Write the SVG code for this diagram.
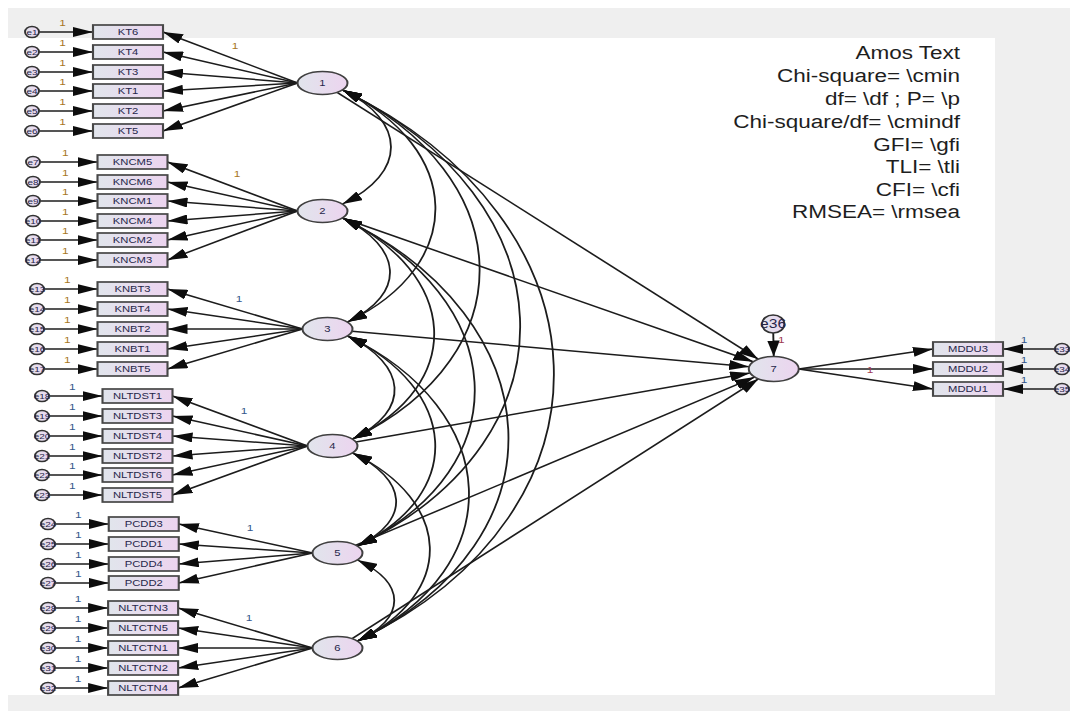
<svg xmlns="http://www.w3.org/2000/svg" width="1070" height="711" viewBox="0 0 1070 711">
<defs>
<linearGradient id="fillGrad" x1="0" y1="0" x2="1" y2="0">
<stop offset="0" stop-color="#e1e5ec"/>
<stop offset="1" stop-color="#ecd4ef"/>
</linearGradient>
<marker id="arrow" viewBox="0 0 16 10" refX="16" refY="5" markerWidth="16" markerHeight="10" markerUnits="userSpaceOnUse" orient="auto-start-reverse">
<path d="M0,0 L16,5 L0,10 Z" fill="#0d0d0d"/>
</marker>
<style>
.obs { fill: url(#fillGrad); stroke: #474747; stroke-width: 1.7; }
.lat { fill: url(#fillGrad); stroke: #404040; stroke-width: 1.6; }
.err { fill: url(#fillGrad); stroke: #333; stroke-width: 1.5; }
.path { fill: none; stroke: #1c1c1c; stroke-width: 1.5; marker-end: url(#arrow); }
.cov { fill: none; stroke: #1c1c1c; stroke-width: 1.45; marker-start: url(#arrow); marker-end: url(#arrow); }
text { font-family: "Liberation Sans", Arial, sans-serif; }
.lbl { font-size: 9px; text-anchor: middle; fill: #26264a; }
.elbl { font-size: 8px; text-anchor: middle; fill: #26264a; }
.one { font-size: 9.5px; text-anchor: middle; fill: #a8771f; }
.oneb { font-size: 9.5px; text-anchor: middle; fill: #35598c; }
.oner { font-size: 9.5px; text-anchor: middle; fill: #a03a55; }
.stats { font-size: 18px; text-anchor: end; fill: #1e1e1e; }
</style>
</defs>

<!-- canvas frame -->
<rect x="8" y="8" width="1062" height="703" fill="#efefef"/>
<rect x="0" y="38" width="995" height="657" fill="#ffffff"/>

<!-- drawing space is compressed horizontally; stretch it back out -->
<g transform="scale(1.25,1)">

<g id="connectors">
<!-- error terms to indicators -->
<line class="path" x1="31.4" y1="32" x2="74.4" y2="32"/>
<line class="path" x1="31.4" y1="52" x2="74.4" y2="52"/>
<line class="path" x1="31.4" y1="72" x2="74.4" y2="72"/>
<line class="path" x1="31.4" y1="91" x2="74.4" y2="91"/>
<line class="path" x1="31.4" y1="111" x2="74.4" y2="111"/>
<line class="path" x1="31.4" y1="131" x2="74.4" y2="131"/>
<line class="path" x1="32.2" y1="162" x2="78" y2="162"/>
<line class="path" x1="32.2" y1="182" x2="78" y2="182"/>
<line class="path" x1="32.2" y1="201" x2="78" y2="201"/>
<line class="path" x1="32.2" y1="221" x2="78" y2="221"/>
<line class="path" x1="32.2" y1="240" x2="78" y2="240"/>
<line class="path" x1="32.2" y1="260" x2="78" y2="260"/>
<line class="path" x1="35.4" y1="289" x2="78" y2="289"/>
<line class="path" x1="35.4" y1="309" x2="78" y2="309"/>
<line class="path" x1="35.4" y1="329" x2="78" y2="329"/>
<line class="path" x1="35.4" y1="349" x2="78" y2="349"/>
<line class="path" x1="35.4" y1="369" x2="78" y2="369"/>
<line class="path" x1="39.4" y1="396" x2="82" y2="396"/>
<line class="path" x1="39.4" y1="416" x2="82" y2="416"/>
<line class="path" x1="39.4" y1="436" x2="82" y2="436"/>
<line class="path" x1="39.4" y1="456" x2="82" y2="456"/>
<line class="path" x1="39.4" y1="475" x2="82" y2="475"/>
<line class="path" x1="39.4" y1="495" x2="82" y2="495"/>
<line class="path" x1="44.2" y1="524" x2="87" y2="524"/>
<line class="path" x1="44.2" y1="544" x2="87" y2="544"/>
<line class="path" x1="44.2" y1="564" x2="87" y2="564"/>
<line class="path" x1="44.2" y1="583" x2="87" y2="583"/>
<line class="path" x1="44.2" y1="608" x2="86.5" y2="608"/>
<line class="path" x1="44.2" y1="628" x2="86.5" y2="628"/>
<line class="path" x1="44.2" y1="648" x2="86.5" y2="648"/>
<line class="path" x1="44.2" y1="668" x2="86.5" y2="668"/>
<line class="path" x1="44.2" y1="688" x2="86.5" y2="688"/>

<!-- factor loadings -->
<line class="path" x1="238" y1="83" x2="130.4" y2="32"/>
<line class="path" x1="238" y1="83" x2="130.4" y2="52"/>
<line class="path" x1="238" y1="83" x2="130.4" y2="72"/>
<line class="path" x1="238" y1="83" x2="130.4" y2="91"/>
<line class="path" x1="238" y1="83" x2="130.4" y2="111"/>
<line class="path" x1="238" y1="83" x2="130.4" y2="131"/>
<line class="path" x1="238" y1="211" x2="134" y2="162"/>
<line class="path" x1="238" y1="211" x2="134" y2="182"/>
<line class="path" x1="238" y1="211" x2="134" y2="201"/>
<line class="path" x1="238" y1="211" x2="134" y2="221"/>
<line class="path" x1="238" y1="211" x2="134" y2="240"/>
<line class="path" x1="238" y1="211" x2="134" y2="260"/>
<line class="path" x1="242" y1="329" x2="134" y2="289"/>
<line class="path" x1="242" y1="329" x2="134" y2="309"/>
<line class="path" x1="242" y1="329" x2="134" y2="329"/>
<line class="path" x1="242" y1="329" x2="134" y2="349"/>
<line class="path" x1="242" y1="329" x2="134" y2="369"/>
<line class="path" x1="246" y1="446" x2="138" y2="396"/>
<line class="path" x1="246" y1="446" x2="138" y2="416"/>
<line class="path" x1="246" y1="446" x2="138" y2="436"/>
<line class="path" x1="246" y1="446" x2="138" y2="456"/>
<line class="path" x1="246" y1="446" x2="138" y2="475"/>
<line class="path" x1="246" y1="446" x2="138" y2="495"/>
<line class="path" x1="250" y1="553" x2="143" y2="524"/>
<line class="path" x1="250" y1="553" x2="143" y2="544"/>
<line class="path" x1="250" y1="553" x2="143" y2="564"/>
<line class="path" x1="250" y1="553" x2="143" y2="583"/>
<line class="path" x1="250" y1="648" x2="142.5" y2="608"/>
<line class="path" x1="250" y1="648" x2="142.5" y2="628"/>
<line class="path" x1="250" y1="648" x2="142.5" y2="648"/>
<line class="path" x1="250" y1="648" x2="142.5" y2="668"/>
<line class="path" x1="250" y1="648" x2="142.5" y2="688"/>

<!-- structural paths into factor 7 -->
<line class="path" x1="269.7" y1="92.3" x2="606.6" y2="359.2"/>
<line class="path" x1="273.9" y1="218" x2="602.6" y2="361.8"/>
<line class="path" x1="281.6" y1="331.2" x2="599.3" y2="366.8"/>
<line class="path" x1="284.7" y1="441.9" x2="600.1" y2="373.1"/>
<line class="path" x1="284.7" y1="545.2" x2="603.7" y2="377.1"/>
<line class="path" x1="281.7" y1="638.7" x2="606.7" y2="378.9"/>

<!-- covariances between factors 1-6 -->
<path class="cov" d="M274,90 C325.7,121 325.7,173 274,204"/>
<path class="cov" d="M274,90 C370.4,147.8 374.4,264.2 278,322"/>
<path class="cov" d="M274,90 C414.8,174.5 422.8,354.5 282,439"/>
<path class="cov" d="M274,90 C455.3,198.8 467.3,437.2 286,546"/>
<path class="cov" d="M274,90 C491.3,220.4 503.3,510.6 286,641"/>
<path class="cov" d="M274,218 C321.9,246.7 325.9,293.3 278,322"/>
<path class="cov" d="M274,218 C366.3,273.4 374.3,383.6 282,439"/>
<path class="cov" d="M274,218 C406.8,297.7 418.8,466.3 286,546"/>
<path class="cov" d="M274,218 C442.8,319.3 454.8,539.7 286,641"/>
<path class="cov" d="M278,336 C325.5,364.5 329.5,410.5 282,439"/>
<path class="cov" d="M278,336 C366.1,388.9 374.1,493.1 286,546"/>
<path class="cov" d="M278,336 C402.1,410.5 410.1,566.5 286,641"/>
<path class="cov" d="M282,453 C325.8,479.3 329.8,519.7 286,546"/>
<path class="cov" d="M282,453 C361.8,500.9 365.8,593.1 286,641"/>
<path class="cov" d="M286,560 C325.2,583.5 325.2,617.5 286,641"/>

<!-- factor 7 and its indicators -->
<line class="path" x1="618.6" y1="333" x2="619" y2="356.5"/>
<line class="path" x1="639" y1="369" x2="746.4" y2="349"/>
<line class="path" x1="639" y1="369" x2="746.4" y2="369"/>
<line class="path" x1="639" y1="369" x2="746.4" y2="389"/>
<line class="path" x1="843.8" y1="349" x2="802.4" y2="349"/>
<line class="path" x1="843.8" y1="369" x2="802.4" y2="369"/>
<line class="path" x1="843.8" y1="389" x2="802.4" y2="389"/>

<!-- fixed parameter labels -->
<text class="one" x="50" y="26">1</text>
<text class="one" x="50" y="46">1</text>
<text class="one" x="50" y="66">1</text>
<text class="one" x="50" y="85">1</text>
<text class="one" x="50" y="105">1</text>
<text class="one" x="50" y="125">1</text>
<text class="one" x="188" y="49">1</text>
<text class="one" x="52.2" y="156">1</text>
<text class="one" x="52.2" y="176">1</text>
<text class="one" x="52.2" y="195">1</text>
<text class="one" x="52.2" y="215">1</text>
<text class="one" x="52.2" y="234">1</text>
<text class="one" x="52.2" y="254">1</text>
<text class="one" x="189.6" y="177">1</text>
<text class="one" x="53.8" y="283">1</text>
<text class="one" x="53.8" y="303">1</text>
<text class="one" x="53.8" y="323">1</text>
<text class="one" x="53.8" y="343">1</text>
<text class="one" x="53.8" y="363">1</text>
<text class="oneb" x="191.2" y="302">1</text>
<text class="oneb" x="57.8" y="390">1</text>
<text class="oneb" x="57.8" y="410">1</text>
<text class="oneb" x="57.8" y="430">1</text>
<text class="oneb" x="57.8" y="450">1</text>
<text class="oneb" x="57.8" y="469">1</text>
<text class="oneb" x="57.8" y="489">1</text>
<text class="oneb" x="195.2" y="414">1</text>
<text class="oneb" x="62.7" y="518">1</text>
<text class="oneb" x="62.7" y="538">1</text>
<text class="oneb" x="62.7" y="558">1</text>
<text class="oneb" x="62.7" y="577">1</text>
<text class="oneb" x="200" y="531">1</text>
<text class="oneb" x="62.5" y="602">1</text>
<text class="oneb" x="62.5" y="622">1</text>
<text class="oneb" x="62.5" y="642">1</text>
<text class="oneb" x="62.5" y="662">1</text>
<text class="oneb" x="62.5" y="682">1</text>
<text class="oneb" x="199.2" y="621">1</text>
<text class="oner" x="625" y="343">1</text>
<text class="oner" x="696" y="373">1</text>
<text class="oneb" x="819.2" y="343">1</text>
<text class="oneb" x="819.2" y="363">1</text>
<text class="oneb" x="819.2" y="383">1</text>
</g>

<!-- observed variables, factor 1 -->
<g id="e1"><circle class="err" cx="25.6" cy="32" r="5.6"/><text class="elbl" x="25.6" y="35">e1</text></g>
<g id="e2"><circle class="err" cx="25.6" cy="52" r="5.6"/><text class="elbl" x="25.6" y="55">e2</text></g>
<g id="e3"><circle class="err" cx="25.6" cy="72" r="5.6"/><text class="elbl" x="25.6" y="75">e3</text></g>
<g id="e4"><circle class="err" cx="25.6" cy="91" r="5.6"/><text class="elbl" x="25.6" y="94">e4</text></g>
<g id="e5"><circle class="err" cx="25.6" cy="111" r="5.6"/><text class="elbl" x="25.6" y="114">e5</text></g>
<g id="e6"><circle class="err" cx="25.6" cy="131" r="5.6"/><text class="elbl" x="25.6" y="134">e6</text></g>
<g id="KT6"><rect class="obs" x="74.4" y="25" width="56" height="14"/><text class="lbl" x="102.4" y="35.2">KT6</text></g>
<g id="KT4"><rect class="obs" x="74.4" y="45" width="56" height="14"/><text class="lbl" x="102.4" y="55.2">KT4</text></g>
<g id="KT3"><rect class="obs" x="74.4" y="65" width="56" height="14"/><text class="lbl" x="102.4" y="75.2">KT3</text></g>
<g id="KT1"><rect class="obs" x="74.4" y="84" width="56" height="14"/><text class="lbl" x="102.4" y="94.2">KT1</text></g>
<g id="KT2"><rect class="obs" x="74.4" y="104" width="56" height="14"/><text class="lbl" x="102.4" y="114.2">KT2</text></g>
<g id="KT5"><rect class="obs" x="74.4" y="124" width="56" height="14"/><text class="lbl" x="102.4" y="134.2">KT5</text></g>

<!-- observed variables, factor 2 -->
<g id="e7"><circle class="err" cx="26.4" cy="162" r="5.6"/><text class="elbl" x="26.4" y="165">e7</text></g>
<g id="e8"><circle class="err" cx="26.4" cy="182" r="5.6"/><text class="elbl" x="26.4" y="185">e8</text></g>
<g id="e9"><circle class="err" cx="26.4" cy="201" r="5.6"/><text class="elbl" x="26.4" y="204">e9</text></g>
<g id="e10"><circle class="err" cx="26.4" cy="221" r="5.6"/><text class="elbl" x="26.4" y="224">e10</text></g>
<g id="e11"><circle class="err" cx="26.4" cy="240" r="5.6"/><text class="elbl" x="26.4" y="243">e11</text></g>
<g id="e12"><circle class="err" cx="26.4" cy="260" r="5.6"/><text class="elbl" x="26.4" y="263">e12</text></g>
<g id="KNCM5"><rect class="obs" x="78" y="155" width="56" height="14"/><text class="lbl" x="106" y="165.2">KNCM5</text></g>
<g id="KNCM6"><rect class="obs" x="78" y="175" width="56" height="14"/><text class="lbl" x="106" y="185.2">KNCM6</text></g>
<g id="KNCM1"><rect class="obs" x="78" y="194" width="56" height="14"/><text class="lbl" x="106" y="204.2">KNCM1</text></g>
<g id="KNCM4"><rect class="obs" x="78" y="214" width="56" height="14"/><text class="lbl" x="106" y="224.2">KNCM4</text></g>
<g id="KNCM2"><rect class="obs" x="78" y="233" width="56" height="14"/><text class="lbl" x="106" y="243.2">KNCM2</text></g>
<g id="KNCM3"><rect class="obs" x="78" y="253" width="56" height="14"/><text class="lbl" x="106" y="263.2">KNCM3</text></g>

<!-- observed variables, factor 3 -->
<g id="e13"><circle class="err" cx="29.6" cy="289" r="5.6"/><text class="elbl" x="29.6" y="292">e13</text></g>
<g id="e14"><circle class="err" cx="29.6" cy="309" r="5.6"/><text class="elbl" x="29.6" y="312">e14</text></g>
<g id="e15"><circle class="err" cx="29.6" cy="329" r="5.6"/><text class="elbl" x="29.6" y="332">e15</text></g>
<g id="e16"><circle class="err" cx="29.6" cy="349" r="5.6"/><text class="elbl" x="29.6" y="352">e16</text></g>
<g id="e17"><circle class="err" cx="29.6" cy="369" r="5.6"/><text class="elbl" x="29.6" y="372">e17</text></g>
<g id="KNBT3"><rect class="obs" x="78" y="282" width="56" height="14"/><text class="lbl" x="106" y="292.2">KNBT3</text></g>
<g id="KNBT4"><rect class="obs" x="78" y="302" width="56" height="14"/><text class="lbl" x="106" y="312.2">KNBT4</text></g>
<g id="KNBT2"><rect class="obs" x="78" y="322" width="56" height="14"/><text class="lbl" x="106" y="332.2">KNBT2</text></g>
<g id="KNBT1"><rect class="obs" x="78" y="342" width="56" height="14"/><text class="lbl" x="106" y="352.2">KNBT1</text></g>
<g id="KNBT5"><rect class="obs" x="78" y="362" width="56" height="14"/><text class="lbl" x="106" y="372.2">KNBT5</text></g>

<!-- observed variables, factor 4 -->
<g id="e18"><circle class="err" cx="33.6" cy="396" r="5.6"/><text class="elbl" x="33.6" y="399">e18</text></g>
<g id="e19"><circle class="err" cx="33.6" cy="416" r="5.6"/><text class="elbl" x="33.6" y="419">e19</text></g>
<g id="e20"><circle class="err" cx="33.6" cy="436" r="5.6"/><text class="elbl" x="33.6" y="439">e20</text></g>
<g id="e21"><circle class="err" cx="33.6" cy="456" r="5.6"/><text class="elbl" x="33.6" y="459">e21</text></g>
<g id="e22"><circle class="err" cx="33.6" cy="475" r="5.6"/><text class="elbl" x="33.6" y="478">e22</text></g>
<g id="e23"><circle class="err" cx="33.6" cy="495" r="5.6"/><text class="elbl" x="33.6" y="498">e23</text></g>
<g id="NLTDST1"><rect class="obs" x="82" y="389" width="56" height="14"/><text class="lbl" x="110" y="399.2">NLTDST1</text></g>
<g id="NLTDST3"><rect class="obs" x="82" y="409" width="56" height="14"/><text class="lbl" x="110" y="419.2">NLTDST3</text></g>
<g id="NLTDST4"><rect class="obs" x="82" y="429" width="56" height="14"/><text class="lbl" x="110" y="439.2">NLTDST4</text></g>
<g id="NLTDST2"><rect class="obs" x="82" y="449" width="56" height="14"/><text class="lbl" x="110" y="459.2">NLTDST2</text></g>
<g id="NLTDST6"><rect class="obs" x="82" y="468" width="56" height="14"/><text class="lbl" x="110" y="478.2">NLTDST6</text></g>
<g id="NLTDST5"><rect class="obs" x="82" y="488" width="56" height="14"/><text class="lbl" x="110" y="498.2">NLTDST5</text></g>

<!-- observed variables, factor 5 -->
<g id="e24"><circle class="err" cx="38.4" cy="524" r="5.6"/><text class="elbl" x="38.4" y="527">e24</text></g>
<g id="e25"><circle class="err" cx="38.4" cy="544" r="5.6"/><text class="elbl" x="38.4" y="547">e25</text></g>
<g id="e26"><circle class="err" cx="38.4" cy="564" r="5.6"/><text class="elbl" x="38.4" y="567">e26</text></g>
<g id="e27"><circle class="err" cx="38.4" cy="583" r="5.6"/><text class="elbl" x="38.4" y="586">e27</text></g>
<g id="PCDD3"><rect class="obs" x="87" y="517" width="56" height="14"/><text class="lbl" x="115" y="527.2">PCDD3</text></g>
<g id="PCDD1"><rect class="obs" x="87" y="537" width="56" height="14"/><text class="lbl" x="115" y="547.2">PCDD1</text></g>
<g id="PCDD4"><rect class="obs" x="87" y="557" width="56" height="14"/><text class="lbl" x="115" y="567.2">PCDD4</text></g>
<g id="PCDD2"><rect class="obs" x="87" y="576" width="56" height="14"/><text class="lbl" x="115" y="586.2">PCDD2</text></g>

<!-- observed variables, factor 6 -->
<g id="e28"><circle class="err" cx="38.4" cy="608" r="5.6"/><text class="elbl" x="38.4" y="611">e28</text></g>
<g id="e29"><circle class="err" cx="38.4" cy="628" r="5.6"/><text class="elbl" x="38.4" y="631">e29</text></g>
<g id="e30"><circle class="err" cx="38.4" cy="648" r="5.6"/><text class="elbl" x="38.4" y="651">e30</text></g>
<g id="e31"><circle class="err" cx="38.4" cy="668" r="5.6"/><text class="elbl" x="38.4" y="671">e31</text></g>
<g id="e32"><circle class="err" cx="38.4" cy="688" r="5.6"/><text class="elbl" x="38.4" y="691">e32</text></g>
<g id="NLTCTN3"><rect class="obs" x="86.5" y="601" width="56" height="14"/><text class="lbl" x="114.5" y="611.2">NLTCTN3</text></g>
<g id="NLTCTN5"><rect class="obs" x="86.5" y="621" width="56" height="14"/><text class="lbl" x="114.5" y="631.2">NLTCTN5</text></g>
<g id="NLTCTN1"><rect class="obs" x="86.5" y="641" width="56" height="14"/><text class="lbl" x="114.5" y="651.2">NLTCTN1</text></g>
<g id="NLTCTN2"><rect class="obs" x="86.5" y="661" width="56" height="14"/><text class="lbl" x="114.5" y="671.2">NLTCTN2</text></g>
<g id="NLTCTN4"><rect class="obs" x="86.5" y="681" width="56" height="14"/><text class="lbl" x="114.5" y="691.2">NLTCTN4</text></g>

<!-- latent factors -->
<g id="F1"><ellipse class="lat" cx="258" cy="83" rx="20" ry="11.5"/><text class="lbl" x="258" y="86">1</text></g>
<g id="F2"><ellipse class="lat" cx="258" cy="211" rx="20" ry="11.5"/><text class="lbl" x="258" y="214">2</text></g>
<g id="F3"><ellipse class="lat" cx="262" cy="329" rx="20" ry="11.5"/><text class="lbl" x="262" y="332">3</text></g>
<g id="F4"><ellipse class="lat" cx="266" cy="446" rx="20" ry="11.5"/><text class="lbl" x="266" y="449">4</text></g>
<g id="F5"><ellipse class="lat" cx="270" cy="553" rx="20" ry="11.5"/><text class="lbl" x="270" y="556">5</text></g>
<g id="F6"><ellipse class="lat" cx="270" cy="648" rx="20" ry="11.5"/><text class="lbl" x="270" y="651">6</text></g>
<g id="F7"><ellipse class="lat" cx="619" cy="369" rx="20" ry="12.5"/><text class="lbl" x="619" y="372">7</text></g>
<g id="e36"><circle class="err" cx="618.5" cy="324" r="9"/><text class="elbl" x="618.5" y="328.5" style="font-size:12.5px">e36</text></g>

<!-- outcome indicators -->
<g id="MDDU3"><rect class="obs" x="746.4" y="342" width="56" height="14"/><text class="lbl" x="774.4" y="352.2">MDDU3</text></g>
<g id="MDDU2"><rect class="obs" x="746.4" y="362" width="56" height="14"/><text class="lbl" x="774.4" y="372.2">MDDU2</text></g>
<g id="MDDU1"><rect class="obs" x="746.4" y="382" width="56" height="14"/><text class="lbl" x="774.4" y="392.2">MDDU1</text></g>
<g id="e33"><circle class="err" cx="849.6" cy="349" r="5.6"/><text class="elbl" x="849.6" y="352">e33</text></g>
<g id="e34"><circle class="err" cx="849.6" cy="369" r="5.6"/><text class="elbl" x="849.6" y="372">e34</text></g>
<g id="e35"><circle class="err" cx="849.6" cy="389" r="5.6"/><text class="elbl" x="849.6" y="392">e35</text></g>

<!-- fit statistics macro block -->
<g id="fit-text">
<text class="stats" x="768" y="59">Amos Text</text>
<text class="stats" x="768" y="82">Chi-square= \cmin</text>
<text class="stats" x="768" y="105">df= \df ; P= \p</text>
<text class="stats" x="768" y="128">Chi-square/df= \cmindf</text>
<text class="stats" x="768" y="151">GFI= \gfi</text>
<text class="stats" x="768" y="173">TLI= \tli</text>
<text class="stats" x="768" y="196">CFI= \cfi</text>
<text class="stats" x="768" y="218">RMSEA= \rmsea</text>
</g>
</g>
</svg>
